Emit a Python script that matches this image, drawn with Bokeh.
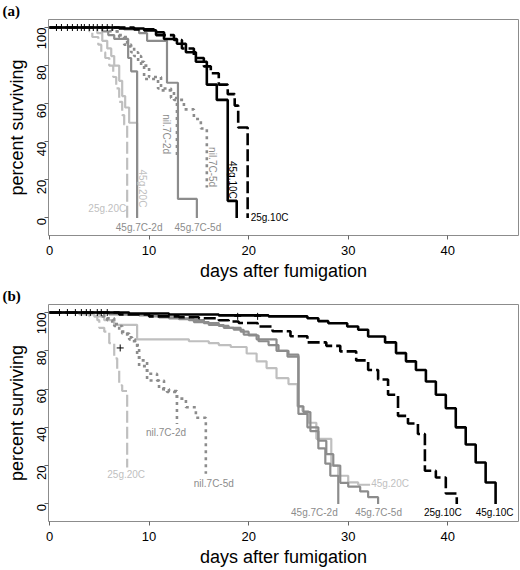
import math
from bokeh.plotting import figure
from bokeh.layouts import column
from bokeh.models import Range1d, FixedTicker, Label
from bokeh.embed import file_html
from bokeh.resources import INLINE

# ---------------- data: day of each step, percent surviving after the step ----------------
# panel (a)
a_25g20C_t = [0, 4.0, 4.3, 4.9, 5.2, 5.6, 6.0, 6.4, 6.7, 7.0, 7.3, 7.5, 7.8]
a_25g20C_s = [100, 98, 95, 91, 87, 84, 80, 74, 68, 61, 54, 49, 0]
a_45g20C_t = [0, 4.8, 5.3, 5.8, 6.2, 6.5, 7.0, 7.3, 7.6, 8.0, 8.8]
a_45g20C_s = [100, 97, 93, 89, 85, 80, 72, 64, 58, 50, 17]
a_45g7C2d_t = [0, 5.3, 5.9, 6.5, 7.9, 8.2, 8.8]
a_45g7C2d_s = [100, 98, 96, 94, 84, 77, 0]
a_45g7C5d_t = [0, 7.5, 9.0, 9.8, 11.8, 12.9, 14.8]
a_45g7C5d_s = [100, 99, 97, 93, 71, 10, 0]
a_nil7C2d_t = [0, 6.0, 6.8, 7.5, 8.2, 8.9, 9.5, 10.9, 12.2, 12.8]
a_nil7C2d_s = [100, 98, 96, 91, 87, 82, 73, 68, 63, 32]
a_nil7C5d_t = [0, 6.3, 7.0, 7.8, 8.5, 9.2, 10.0, 11.2, 12.5, 13.5, 14.5, 15.2, 15.8]
a_nil7C5d_s = [100, 98, 95, 90, 85, 80, 74, 67, 62, 57, 52, 47, 16]
a_45g10C_t = [0, 7.0, 9.5, 10.7, 11.5, 12.8, 13.7, 14.7, 15.8, 16.8, 17.9, 18.8]
a_45g10C_s = [100, 99.5, 98.5, 96, 94, 91.5, 87, 82, 70, 62, 9, 0]
a_25g10C_t = [0, 8.5, 10.5, 11.5, 12.5, 13.3, 14.5, 15.5, 16.2, 17.0, 17.9, 18.6, 18.95, 19.9]
a_25g10C_s = [100, 99, 97.5, 96, 93.4, 89, 84, 79.6, 76, 70, 65, 59, 47.5, 0]
a_censor_x = [0.7, 1.2, 1.8, 2.3, 2.8, 3.2, 3.5, 4.0, 4.4, 4.8, 5.3, 5.8, 6.3]
a_censor_y = [100] * len(a_censor_x)

# panel (b)
b_25g20C_t = [0, 4.0, 4.8, 5.0, 5.5, 6.0, 6.5, 6.8, 7.0, 7.3, 7.8]
b_25g20C_s = [100, 98, 96, 92, 90, 84, 76, 70, 62, 59, 19]
b_45g20C_t = [0, 3.0, 4.5, 5.5, 6.5, 8.8, 14.0, 16.0, 17.0, 18.2, 19.8, 20.8, 21.8, 22.8, 24.0,
              24.9, 25.4, 26.0, 26.8, 28.3, 29.0, 30.0, 31.0, 32.2]
b_45g20C_s = [100, 99, 98, 96, 93.6, 86, 85, 84, 83, 82, 78.6, 74.5, 71, 65.7, 62.6,
              51, 48.5, 42.4, 34, 20, 14.7, 11.2, 10, 10]
b_45g7C2d_t = [0, 6, 9, 11, 13, 14.5, 16, 17.5, 18.5, 19.5, 20.8, 22.8, 23.9, 25.0, 25.9, 27.0, 27.7, 28.2, 29.0]
b_45g7C2d_s = [100, 99, 98.5, 97.5, 96.5, 95, 93.5, 92, 91, 88.5, 86, 80, 77, 47, 40, 29, 21, 14.7, 0]
b_45g7C5d_t = [0, 7, 10, 12, 14, 15.5, 17, 18, 19.2, 20, 21, 22, 23, 24, 25.0, 25.5, 26.2, 27.0, 27.8,
               28.5, 29.2, 30.0, 31.2, 32.0, 33.0]
b_45g7C5d_s = [100, 99, 98, 97, 96, 94.5, 93, 92, 90, 88, 85, 83, 80, 78, 51, 48, 38, 33, 26,
               20, 11, 9, 6.5, 3.5, 0]
b_nil7C2d_t = [0, 5.0, 5.8, 6.3, 7.0, 7.8, 8.3, 8.8, 9.0, 9.8, 10.8, 11.5, 12.0, 12.8]
b_nil7C2d_s = [100, 98, 96, 94, 90, 87, 85, 78, 72, 68, 64.5, 60, 59, 41.8]
b_nil7C5d_t = [0, 5.5, 6.5, 7.3, 8.0, 8.6, 9.0, 9.8, 11.0, 11.8, 12.8, 13.7, 14.7, 15.7]
b_nil7C5d_s = [100, 97, 93, 89, 86, 83, 75, 64.5, 60, 58.5, 55, 50.5, 45, 15.7]
b_45g10C_t = [0, 8, 12, 17, 22, 25.9, 27.0, 28.0, 29.9, 31.0, 32.0, 33.7, 34.8, 35.8, 36.8,
              37.8, 38.8, 39.8, 40.8, 41.8, 42.8, 43.8, 44.8]
b_45g10C_s = [100, 99.5, 99, 98.5, 98, 97, 95.5, 94.4, 92.7, 91, 87.5, 84.4, 78.8, 74.5, 70,
              64, 57, 50, 40, 31, 21.6, 11.2, 0]
b_25g10C_t = [0, 7, 10, 13, 15, 17, 18, 19, 20.9, 22.4, 24.2, 25.9, 27.8, 29.2, 30.8, 32.0,
              33.0, 34.0, 35.0, 36.0, 37.0, 37.7, 38.8, 39.8, 40.9]
b_25g10C_s = [100, 99, 98, 97.5, 97, 96, 95.3, 94.5, 92.7, 90.2, 87.6, 84.4, 82.6, 79.7, 75, 70,
              65, 57, 46, 42, 36.5, 17.3, 13.8, 5.4, 0]
b_censor_x = [1.0, 1.8, 2.6, 3.2, 3.7, 4.1, 4.8, 5.2, 5.8, 7.1, 18.9, 20.9]
b_censor_y = [100, 100, 100, 100, 100, 100, 100, 100, 100, 81.5, 98, 98]

x_ticks = [0, 10, 20, 30, 40]
y_ticks = [0, 20, 40, 60, 80, 100]
x_title = "days after fumigation"
y_title = "percent surviving"

# ---------------- styles ----------------
LIGHT = "#BFBFBF"
MID = "#8C8C8C"
BLACK = "#000000"
STYLE = {
    "25g.20C": (LIGHT, 2.2, "12 4"),
    "45g.20C": (LIGHT, 2.2, "solid"),
    "45g.7C-2d": (MID, 2.2, "solid"),
    "45g.7C-5d": (MID, 2.2, "solid"),
    "nil.7C-2d": (MID, 2.6, "3 4"),
    "nil.7C-5d": (MID, 2.6, "3 4"),
    "25g.10C": (BLACK, 2.6, "12 4"),
    "45g.10C": (BLACK, 2.6, "solid"),
}

X0, X1 = -0.1, 47.1
Y0, Y1 = -9.2, 104.2
FW, FH = 470, 218
LEFT, RIGHT = 48, 2
SANS = "Liberation Sans"


def panel(letter, curves, censor_x, censor_y, labels, top, bottom):
    p = figure(width=LEFT + FW + RIGHT, height=top + FH + bottom,
               x_range=Range1d(X0, X1), y_range=Range1d(Y0, Y1),
               output_backend="svg", toolbar_location=None,
               min_border_left=LEFT, min_border_right=RIGHT,
               min_border_top=top, min_border_bottom=bottom)
    p.xgrid.grid_line_color = None
    p.ygrid.grid_line_color = None
    p.outline_line_color = "#8C8C8C"
    p.outline_line_width = 1
    p.background_fill_color = "white"
    p.border_fill_color = "white"

    p.title.text = letter
    p.title.align = "left"
    p.title.offset = -46
    p.title.standoff = 1
    p.title.text_font = "Liberation Serif"
    p.title.text_font_style = "bold"
    p.title.text_font_size = "15px"
    p.title.text_color = "black"

    for ax in (p.xaxis[0], p.yaxis[0]):
        ax.axis_line_color = None
        ax.major_tick_line_color = "#666666"
        ax.major_tick_out = 4
        ax.major_tick_in = 0
        ax.minor_tick_line_color = None
        ax.major_label_text_font = SANS
        ax.major_label_text_font_size = "13px"
        ax.major_label_text_color = "black"
        ax.axis_label_text_font = SANS
        ax.axis_label_text_font_size = "18px"
        ax.axis_label_text_font_style = "normal"
        ax.axis_label_text_color = "black"
    p.xaxis.ticker = FixedTicker(ticks=x_ticks)
    p.yaxis.ticker = FixedTicker(ticks=y_ticks)
    p.xaxis.major_label_standoff = 6
    p.yaxis.major_label_standoff = 3
    p.yaxis.major_label_orientation = math.pi / 2
    p.xaxis.axis_label = x_title
    p.yaxis.axis_label = y_title
    p.xaxis.axis_label_standoff = 3
    p.yaxis.axis_label_standoff = 3

    for name, t, s in curves:
        c, w, d = STYLE[name]
        p.step(x=t, y=s, mode="after", line_color=c, line_width=w, line_dash=d)
    p.scatter(x=censor_x, y=censor_y, marker="cross", size=7, line_color="black", line_width=1)

    for text, x, y, align, ang in labels:
        c = STYLE[text][0]
        p.add_layout(Label(x=x, y=y, text=text, text_align=align, text_baseline="middle",
                           angle=math.radians(ang), text_color=c,
                           text_font=SANS, text_font_size="10px"))
    return p


curves_a = [
    ("25g.20C", a_25g20C_t, a_25g20C_s), ("45g.20C", a_45g20C_t, a_45g20C_s),
    ("nil.7C-2d", a_nil7C2d_t, a_nil7C2d_s), ("nil.7C-5d", a_nil7C5d_t, a_nil7C5d_s),
    ("45g.7C-2d", a_45g7C2d_t, a_45g7C2d_s), ("45g.7C-5d", a_45g7C5d_t, a_45g7C5d_s),
    ("25g.10C", a_25g10C_t, a_25g10C_s), ("45g.10C", a_45g10C_t, a_45g10C_s),
]
labels_a = [
    ("25g.20C", 7.7, 5, "right", 0), ("45g.20C", 9.3, 15.5, "center", -90),
    ("45g.7C-2d", 9.0, -5, "center", 0), ("nil.7C-2d", 11.8, 44, "center", -90),
    ("45g.7C-5d", 14.9, -5, "center", 0), ("nil.7C-5d", 16.35, 26.7, "center", -90),
    ("45g.10C", 18.4, 20, "center", -90), ("25g.10C", 20.2, 0, "left", 0),
]
curves_b = [
    ("25g.20C", b_25g20C_t, b_25g20C_s), ("45g.20C", b_45g20C_t, b_45g20C_s),
    ("nil.7C-2d", b_nil7C2d_t, b_nil7C2d_s), ("nil.7C-5d", b_nil7C5d_t, b_nil7C5d_s),
    ("45g.7C-2d", b_45g7C2d_t, b_45g7C2d_s), ("45g.7C-5d", b_45g7C5d_t, b_45g7C5d_s),
    ("25g.10C", b_25g10C_t, b_25g10C_s), ("45g.10C", b_45g10C_t, b_45g10C_s),
]
labels_b = [
    ("25g.20C", 7.7, 15.5, "center", 0), ("nil.7C-2d", 11.7, 37.5, "center", 0),
    ("nil.7C-5d", 16.5, 10.5, "center", 0), ("45g.20C", 32.3, 10.4, "left", 0),
    ("45g.7C-2d", 26.6, -4.5, "center", 0), ("45g.7C-5d", 33.05, -4.5, "center", 0),
    ("25g.10C", 39.5, -4.5, "center", 0), ("45g.10C", 44.7, -4.5, "center", 0),
]

pa = panel("(a)", curves_a, a_censor_x, a_censor_y, labels_a, 17, 50)
pb = panel("(b)", curves_b, b_censor_x, b_censor_y, labels_b, 18, 48)
layout = column(pa, pb)

open("out.html", "w").write(file_html(layout, INLINE))
